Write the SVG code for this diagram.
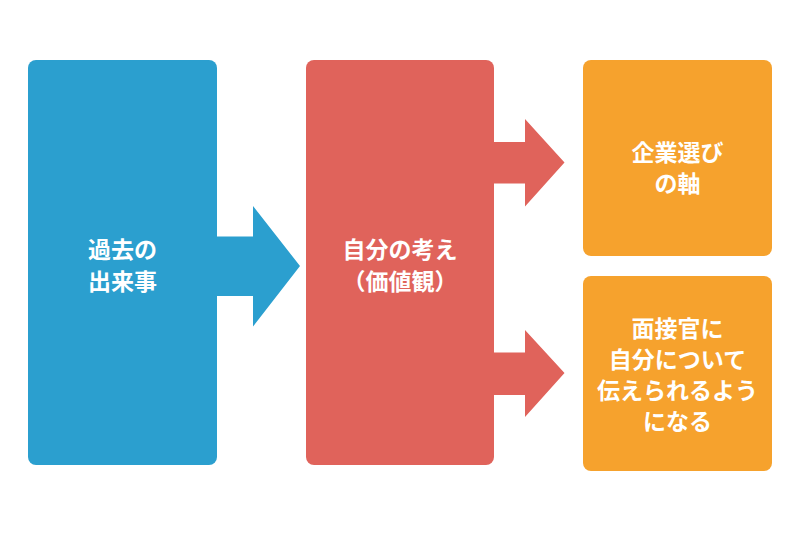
<svg xmlns="http://www.w3.org/2000/svg" width="800" height="534" viewBox="0 0 800 534">
<style>
.t{font-family:"Noto Sans CJK JP","Noto Sans",sans-serif;font-weight:700;font-size:23px;fill:#fff;text-anchor:middle}
.blue{fill:#2b9fcf}
.red{fill:#e0635b}
.orange{fill:#f6a22d}
</style>
<rect width="800" height="534" fill="#fff"/>
<g id="connectors">
<polygon class="blue" points="214,236.5 253,236.5 253,206 300,266 253,326.5 253,296 214,296"/>
<polygon class="red" points="492,142 525,142 525,119 564.5,162.5 525,206.5 525,183.5 492,183.5"/>
<polygon class="red" points="492,352.5 525,352.5 525,330 564.5,373 525,417 525,395 492,395"/>
</g>
<g id="past">
<rect class="blue" x="28" y="60" width="189" height="405" rx="8"/>
<text class="t" x="122.5" y="258">過去の</text>
<text class="t" x="122.5" y="290">出来事</text>
</g>
<g id="values">
<rect class="red" x="306" y="60" width="188" height="405" rx="8"/>
<text class="t" x="400" y="258">自分の考え</text>
<text class="t" x="400" y="290">（価値観）</text>
</g>
<g id="axis">
<rect class="orange" x="583" y="60" width="189" height="196" rx="8"/>
<text class="t" x="677.5" y="161">企業選び</text>
<text class="t" x="677.5" y="192">の軸</text>
</g>
<g id="interview">
<rect class="orange" x="583" y="276" width="189" height="195" rx="8"/>
<text class="t" x="677.5" y="337">面接官に</text>
<text class="t" x="677.5" y="368">自分について</text>
<text class="t" x="677.5" y="399">伝えられるよう</text>
<text class="t" x="677.5" y="430">になる</text>
</g>
</svg>
